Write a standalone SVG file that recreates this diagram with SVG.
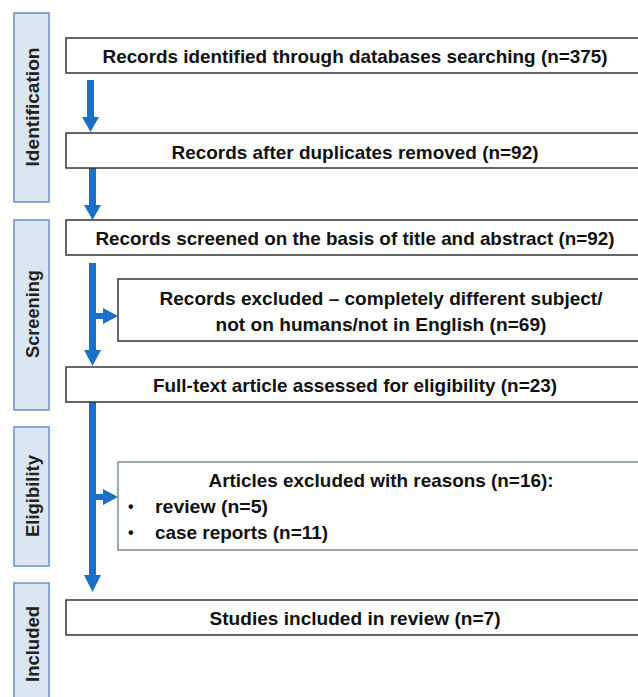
<svg xmlns="http://www.w3.org/2000/svg" width="638" height="697" viewBox="0 0 638 697">
<style>
.side{fill:#dbe6f3;stroke:#6a8fc2;stroke-width:1.5}
.box{fill:#fff;stroke:#333;stroke-width:1.5}
.box2{fill:#fff;stroke:#7d8a97;stroke-width:1.5}
.t{font-family:"Liberation Sans",Arial,sans-serif;font-weight:bold;font-size:19px;fill:#111}
.s{font-family:"Liberation Sans",Arial,sans-serif;font-weight:bold;font-size:19px;fill:#222}
.b{font-family:"Liberation Sans",Arial,sans-serif;font-weight:bold;font-size:16px;fill:#111}
.arr{fill:#1a6fc6}
</style>
<g id="side-identification"><rect class="side" x="14" y="13" width="35" height="189"/><text class="s" transform="translate(39,107) rotate(-90)" text-anchor="middle" textLength="119" lengthAdjust="spacingAndGlyphs">Identification</text></g>
<g id="side-screening"><rect class="side" x="14" y="220" width="35" height="190"/><text class="s" transform="translate(39,314) rotate(-90)" text-anchor="middle" textLength="88" lengthAdjust="spacingAndGlyphs">Screening</text></g>
<g id="side-eligibility"><rect class="side" x="14" y="427" width="35" height="139"/><text class="s" transform="translate(39,496) rotate(-90)" text-anchor="middle" textLength="82" lengthAdjust="spacingAndGlyphs">Eligibility</text></g>
<g id="side-included"><rect class="side" x="14" y="583" width="35" height="130"/><text class="s" transform="translate(39,644) rotate(-90)" text-anchor="middle" textLength="76" lengthAdjust="spacingAndGlyphs">Included</text></g>

<g id="connectors">
<rect class="arr" x="87" y="80" width="7" height="38"/><polygon class="arr" points="82,117 99,117 90.5,132"/>
<rect class="arr" x="89" y="168" width="7" height="38"/><polygon class="arr" points="84,205 101,205 92.5,220"/>
<rect class="arr" x="89" y="263" width="7" height="88"/><polygon class="arr" points="84,350 101,350 92.5,366"/>
<rect class="arr" x="95" y="313" width="9" height="6"/><polygon class="arr" points="103,308 103,324 118,316"/>
<rect class="arr" x="89" y="402" width="7" height="174"/><polygon class="arr" points="84,575 101,575 92.5,592"/>
<rect class="arr" x="95" y="494" width="9" height="6"/><polygon class="arr" points="103,489 103,505 118,497"/>
</g>

<g id="box-identified"><rect class="box" x="66" y="38" width="580" height="35"/><text class="t" x="355" y="63" text-anchor="middle" textLength="505" lengthAdjust="spacingAndGlyphs">Records identified through databases searching (n=375)</text></g>
<g id="box-duplicates"><rect class="box" x="66" y="133" width="580" height="35"/><text class="t" x="355" y="159" text-anchor="middle" textLength="367" lengthAdjust="spacingAndGlyphs">Records after duplicates removed (n=92)</text></g>
<g id="box-screened"><rect class="box" x="66" y="220" width="580" height="35"/><text class="t" x="355" y="245" text-anchor="middle" textLength="519" lengthAdjust="spacingAndGlyphs">Records screened on the basis of title and abstract (n=92)</text></g>
<g id="box-excluded"><rect class="box" x="118" y="279" width="528" height="62"/><text class="t" x="381" y="305" text-anchor="middle" textLength="443" lengthAdjust="spacingAndGlyphs">Records excluded – completely different subject/</text><text class="t" x="381" y="331" text-anchor="middle" textLength="331" lengthAdjust="spacingAndGlyphs">not on humans/not in English (n=69)</text></g>
<g id="box-fulltext"><rect class="box" x="66" y="367" width="580" height="35"/><text class="t" x="355" y="392" text-anchor="middle" textLength="404" lengthAdjust="spacingAndGlyphs">Full-text article assessed for eligibility (n=23)</text></g>
<g id="box-articles-excluded"><rect class="box2" x="118" y="462" width="528" height="88"/><text class="t" x="381" y="487" text-anchor="middle" textLength="345" lengthAdjust="spacingAndGlyphs">Articles excluded with reasons (n=16):</text><text class="b" x="128" y="512">•</text><text class="t" x="155" y="513" textLength="113" lengthAdjust="spacingAndGlyphs">review (n=5)</text><text class="b" x="128" y="538">•</text><text class="t" x="155" y="539" textLength="173" lengthAdjust="spacingAndGlyphs">case reports (n=11)</text></g>
<g id="box-included"><rect class="box" x="66" y="600" width="580" height="35"/><text class="t" x="355" y="625" text-anchor="middle" textLength="291" lengthAdjust="spacingAndGlyphs">Studies included in review (n=7)</text></g>
</svg>
